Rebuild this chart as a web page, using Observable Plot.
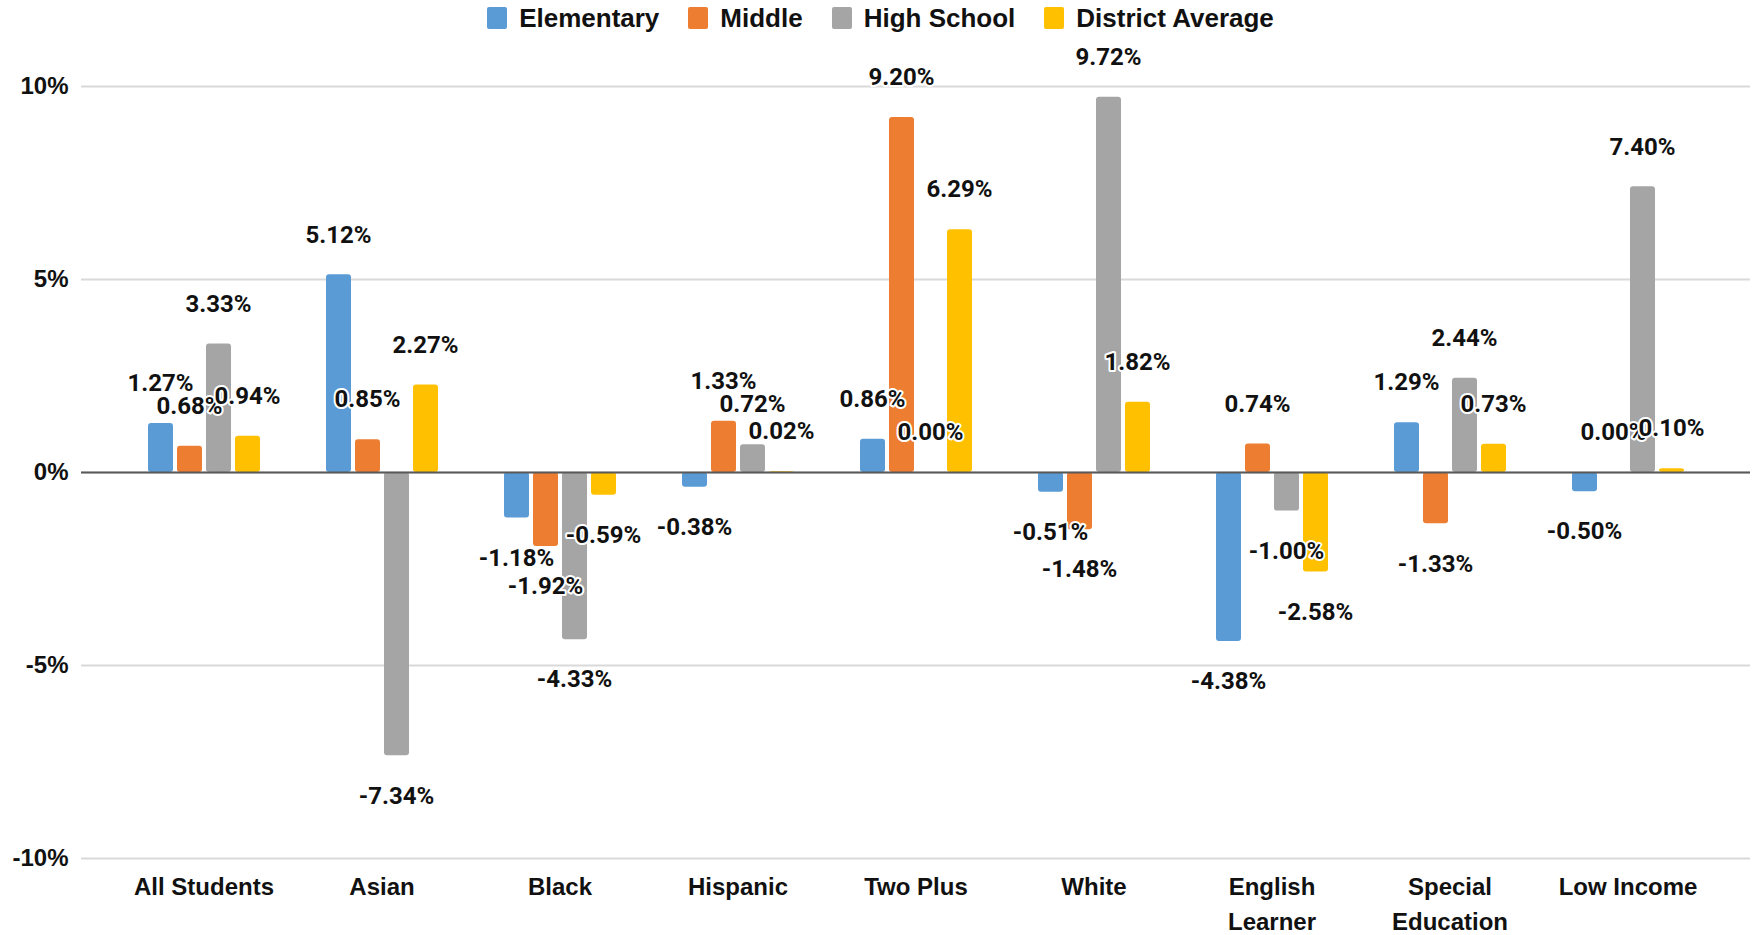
<!DOCTYPE html>
<html><head><meta charset="utf-8">
<script src="https://cdn.jsdelivr.net/npm/d3@7"></script>
<script src="https://cdn.jsdelivr.net/npm/@observablehq/plot@0.6"></script>
<style>
html,body{margin:0;padding:0;background:#fff;}
#legend{height:36px;display:flex;justify-content:center;align-items:center;gap:29px;font-family:"Liberation Sans",Arial,sans-serif;font-weight:700;font-size:26px;color:#111;}
#legend .item{display:flex;align-items:center;gap:12px;}
#legend .sw{width:20px;height:22px;border-radius:2px;}
#chart{position:relative;width:1761px;height:899px;}
#chart svg{position:absolute;left:0;top:0;}
</style></head>
<body>
<div id="legend"></div>
<div id="chart"></div>
<script>
const categories = ["All Students","Asian","Black","Hispanic","Two Plus","White","English Learner","Special Education","Low Income"];
const series = ["Elementary","Middle","High School","District Average"];
const colors = ["#5B9BD5","#ED7D31","#A5A5A5","#FFC000"];
const elementary = [1.27,5.12,-1.18,-0.38,0.86,-0.51,-4.38,1.29,-0.50];
const middle = [0.68,0.85,-1.92,1.33,9.20,-1.48,0.74,-1.33,0.00];
const highSchool = [3.33,-7.34,-4.33,0.72,0.00,9.72,-1.00,2.44,7.40];
const districtAvg = [0.94,2.27,-0.59,0.02,6.29,1.82,-2.58,0.73,0.10];
const yTicks = [-10,-5,0,5,10];

const valuesBySeries = [elementary, middle, highSchool, districtAvg];
const data = [];
categories.forEach((c,i)=>series.forEach((s,j)=>data.push({category:c, series:s, value:valuesBySeries[j][i]})));

const legend = document.getElementById("legend");
series.forEach((s,j)=>{
  const it=document.createElement("div");it.className="item";
  const sw=document.createElement("div");sw.className="sw";sw.style.background=colors[j];
  const t=document.createElement("span");t.textContent=s;
  it.appendChild(sw);it.appendChild(t);legend.appendChild(it);
});

const axisFont = "'Liberation Sans', Arial, sans-serif";
const labelFmt = d => d.toFixed(2) + "%";
const common = {width: 1761, height: 899, marginLeft: 81, marginRight: 11, marginTop: 50, marginBottom: 77};
const yScale = {domain: [-10, 10], axis: null};

// background layer: gridlines + y axis
const back = Plot.plot({
  ...common,
  style: {background: "#fff"},
  y: yScale,
  marks: [
    Plot.ruleY(yTicks, {stroke: "#d9d9d9", strokeWidth: 2}),
    Plot.axisY(yTicks, {tickSize: 0, tickPadding: 13, tickFormat: d => d + "%", fontSize: 24, fontWeight: 700, fontFamily: axisFont, fill: "#111"})
  ]
});

// bars layer
const bars = Plot.plot({
  ...common,
  style: {background: "transparent", overflow: "visible"},
  fx: {domain: categories, paddingInner: 0.3434, paddingOuter: 0.347, label: null, axis: null},
  x: {domain: series, paddingInner: 0.15, paddingOuter: 0.075, axis: null},
  y: yScale,
  color: {domain: series, range: colors},
  marks: [
    Plot.barY(data, {fx: "category", x: "series", y: "value", fill: "series", rx: 3}),
    Plot.axisFx({anchor: "bottom", tickSize: 0, tickPadding: 12, fontSize: 24, fontWeight: 700, fontFamily: axisFont, fill: "#111", lineHeight: 1.45,
      tickFormat: d => d === "English Learner" ? "English\nLearner" : d === "Special Education" ? "Special\nEducation" : d, label: null})
  ]
});

// zero line layer
const zero = Plot.plot({
  ...common,
  style: {background: "transparent", overflow: "visible"},
  y: yScale,
  marks: [Plot.ruleY([0], {stroke: "#595959", strokeWidth: 2})]
});

// labels layer
const labels = Plot.plot({
  ...common,
  style: {background: "transparent", overflow: "visible"},
  fx: {domain: categories, paddingInner: 0.3434, paddingOuter: 0.347, label: null, axis: null},
  x: {domain: series, paddingInner: 0.15, paddingOuter: 0.075, axis: null},
  y: yScale,
  marks: [
    Plot.text(data.filter(d => d.value >= 0), {fx: "category", x: "series", y: "value", text: d => labelFmt(d.value), dy: -40,
      fontSize: 24, fontWeight: 700, fontFamily: "Roboto, sans-serif", fill: "#111", stroke: "#fff", strokeWidth: 4, paintOrder: "stroke"}),
    Plot.text(data.filter(d => d.value < 0), {fx: "category", x: "series", y: "value", text: d => labelFmt(d.value), dy: 40,
      fontSize: 24, fontWeight: 700, fontFamily: "Roboto, sans-serif", fill: "#111", stroke: "#fff", strokeWidth: 4, paintOrder: "stroke"})
  ]
});

const el = document.getElementById("chart");
[back, bars, zero, labels].forEach(p => el.appendChild(p));
</script>
</body></html>
